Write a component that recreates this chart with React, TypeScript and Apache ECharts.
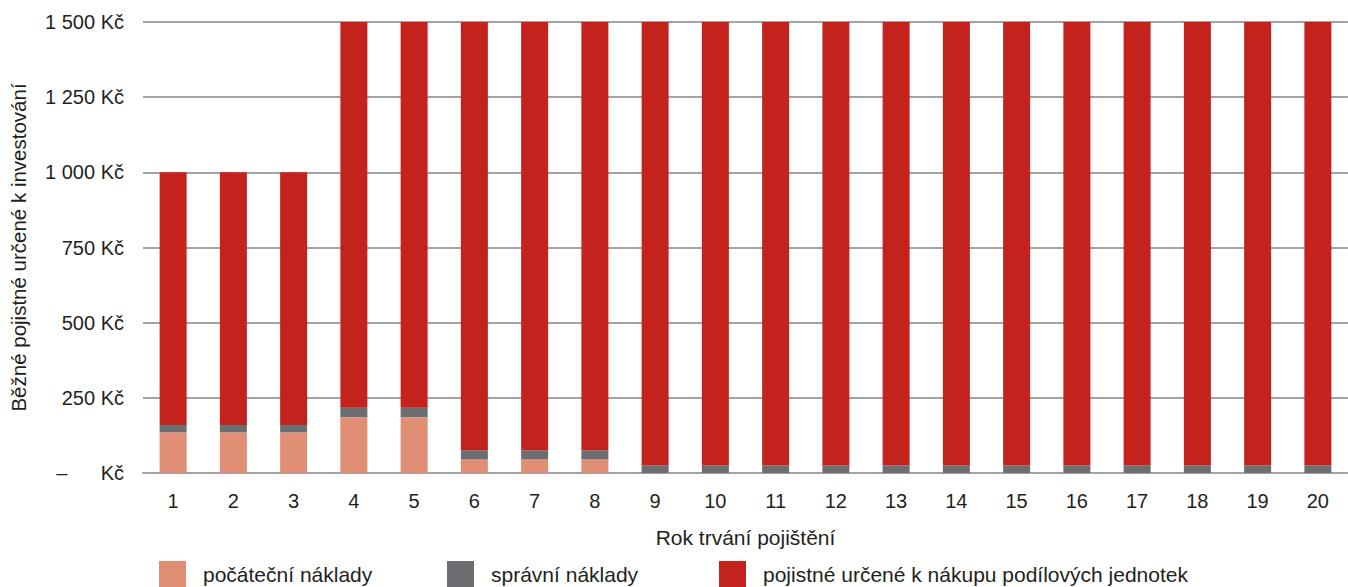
import React, { useEffect, useRef } from "react";
import * as echarts from "echarts";

const years = ["1", "2", "3", "4", "5", "6", "7", "8", "9", "10", "11", "12", "13", "14", "15", "16", "17", "18", "19", "20"];
const initialCosts = [135, 135, 135, 185, 185, 45, 45, 45, 0, 0, 0, 0, 0, 0, 0, 0, 0, 0, 0, 0];
const adminCosts = [25, 25, 25, 32, 32, 30, 30, 30, 25, 25, 25, 25, 25, 25, 25, 25, 25, 25, 25, 25];
const investedPremium = [840, 840, 840, 1283, 1283, 1425, 1425, 1425, 1475, 1475, 1475, 1475, 1475, 1475, 1475, 1475, 1475, 1475, 1475, 1475];
const yTickLabels: Record<number, string> = {
  0: "–      Kč",
  250: "250 Kč",
  500: "500 Kč",
  750: "750 Kč",
  1000: "1 000 Kč",
  1250: "1 250 Kč",
  1500: "1 500 Kč",
};
const seriesNames = ["počáteční náklady", "správní náklady", "pojistné určené k nákupu podílových jednotek"];
const colors = ["#E08E74", "#6D6E71", "#C4221C"];

const FONT = "Liberation Sans, Arial, Helvetica, sans-serif";
const TEXT = "#231F20";

export default function App() {
  const ref = useRef<HTMLDivElement>(null);
  useEffect(() => {
    if (!ref.current) return;
    const chart = echarts.init(ref.current, undefined, { renderer: "svg" });
    const values = [initialCosts, adminCosts, investedPremium];
    const legendLefts = [159, 447, 719];
    chart.setOption({
      animation: false,
      textStyle: { fontFamily: FONT, color: TEXT },
      grid: { left: 142, right: -3, top: 22, bottom: 114, containLabel: false },
      legend: seriesNames.map((n, i) => ({
        data: [n],
        left: legendLefts[i],
        top: 561,
        padding: 0,
        itemWidth: 27,
        itemHeight: 26,
        icon: "rect",
        textStyle: { fontFamily: FONT, fontSize: 21, color: TEXT, padding: [0, 0, 0, 12] },
        selectedMode: false,
      })),
      xAxis: {
        type: "category",
        data: years,
        name: "Rok trvání pojištění",
        nameLocation: "middle",
        nameGap: 54,
        nameTextStyle: { fontFamily: FONT, fontSize: 21, color: TEXT },
        axisLine: { lineStyle: { color: "#A3A3A6", width: 2 } },
        axisTick: { show: false },
        axisLabel: { fontFamily: FONT, fontSize: 20, color: TEXT, margin: 18 },
      },
      yAxis: {
        type: "value",
        min: 0,
        max: 1500,
        interval: 250,
        name: "Běžné pojistné určené k investování",
        nameLocation: "middle",
        nameRotate: 90,
        nameGap: 114,
        nameTextStyle: { fontFamily: FONT, fontSize: 20.5, color: TEXT },
        axisLine: { show: false },
        axisTick: { show: false },
        splitLine: { lineStyle: { color: "#A3A3A6", width: 2 } },
        axisLabel: {
          fontFamily: FONT,
          fontSize: 20,
          color: TEXT,
          margin: 19,
          formatter: (v: number) => yTickLabels[v] ?? String(v),
        },
      },
      series: seriesNames.map((n, i) => ({
        name: n,
        type: "bar",
        stack: "total",
        barWidth: 27,
        data: values[i],
        itemStyle: { color: colors[i] },
      })),
    });
    return () => chart.dispose();
  }, []);
  return (
    <div
      ref={ref}
      style={{ position: "fixed", left: 0, top: 0, width: 1348, height: 587, background: "#fff" }}
    />
  );
}
